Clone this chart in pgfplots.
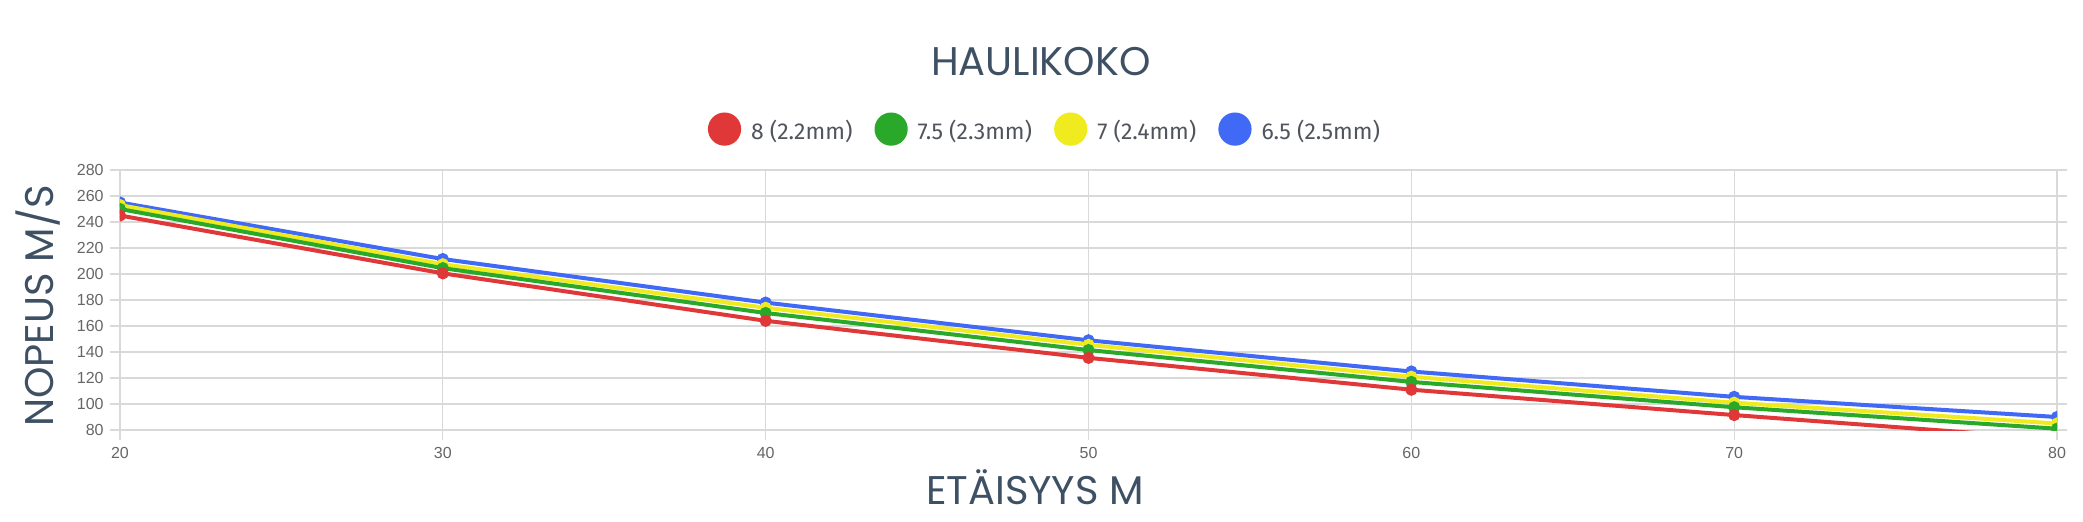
\documentclass[border=0pt]{standalone}
\usepackage{fontspec}
\usepackage{pgfplots}
\pgfplotsset{compat=1.18}
\setmainfont{Liberation Sans}
\newfontfamily\titlefont{Poppins}
\newfontfamily\legfont{Fira Sans}
\newfontfamily\tickfont{Liberation Sans}
\definecolor{cred}{RGB}{224,56,56}
\definecolor{cgreen}{RGB}{42,168,42}
\definecolor{cyellow}{RGB}{240,235,30}
\definecolor{cblue}{RGB}{64,106,245}
\definecolor{gridc}{RGB}{217,217,217}
\definecolor{titlec}{RGB}{62,80,100}
\definecolor{tickc}{RGB}{102,102,102}
\definecolor{legc}{RGB}{80,84,92}
\begin{document}
\begin{tikzpicture}
\path[use as bounding box] (-60pt,-45.5pt) rectangle (981.5pt,215pt);
\begin{axis}[
  scale only axis,
  width=968.5pt, height=130pt,
  xmin=20, xmax=80, ymin=80, ymax=280,
  xtick={20,30,...,80}, ytick={80,100,...,280},
  grid=major,
  major grid style={color=gridc, line width=0.6pt},
  axis line style={color=gridc, line width=0.6pt},
  tick style={color=gridc, line width=0.6pt},
  tick align=outside, major tick length=5pt,
  xtick pos=bottom, ytick pos=both, yticklabel pos=left,
  /pgf/number format/assume math mode=true,
  ticklabel style={font=\tickfont\fontsize{8}{9}\selectfont, text=tickc},
  yticklabel style={inner sep=0pt, anchor=east, xshift=-3pt},
  xticklabel style={inner sep=0pt, anchor=center, yshift=-6.5pt},
  clip marker paths=true,
  every axis plot/.append style={line width=2pt, mark=*, mark size=2pt},
  reverse legend,
  legend columns=4,
  legend image code/.code={\fill (7.3pt,1.1pt) circle (7.3pt);},
  legend style={at={(462pt,155pt)}, anchor=center, draw=none, fill=none,
    font=\legfont\fontsize{11.5}{13}\selectfont, text=legc,
    nodes={inner sep=0pt},
    /tikz/every odd column/.append style={column sep=5pt},
    /tikz/every even column/.append style={column sep=11pt}},
  title={\titlefont\fontsize{20}{24}\selectfont HAULIKOKO},
  title style={at={(460.5pt,182.7pt)}, anchor=center, text=titlec, inner sep=0pt},
  xlabel={\titlefont\fontsize{20}{24}\selectfont ETÄISYYS M},
  xlabel style={at={(457.5pt,-24pt)}, anchor=center, text=titlec, inner sep=0pt},
  ylabel={\titlefont\fontsize{20}{24}\selectfont NOPEUS M/S},
  ylabel style={at={(-41pt,66.5pt)}, anchor=center, rotate=0, text=titlec, inner sep=0pt},
]
\addplot[color=cblue] coordinates {(20,255) (30,211.5) (40,178) (50,149) (60,125) (70,105.5) (80,90)};
\addplot[color=cyellow] coordinates {(20,253) (30,207.5) (40,174) (50,145.5) (60,121) (70,101) (80,85)};
\addplot[color=cgreen] coordinates {(20,250) (30,204.5) (40,170) (50,141.5) (60,117) (70,97.5) (80,81)};
\addplot[color=cred] coordinates {(20,245) (30,200.5) (40,164) (50,135.5) (60,111) (70,91.5) (80,73)};
\legend{6.5 (2.5mm),7 (2.4mm),7.5 (2.3mm),8 (2.2mm)}
\end{axis}
\end{tikzpicture}
\end{document}
